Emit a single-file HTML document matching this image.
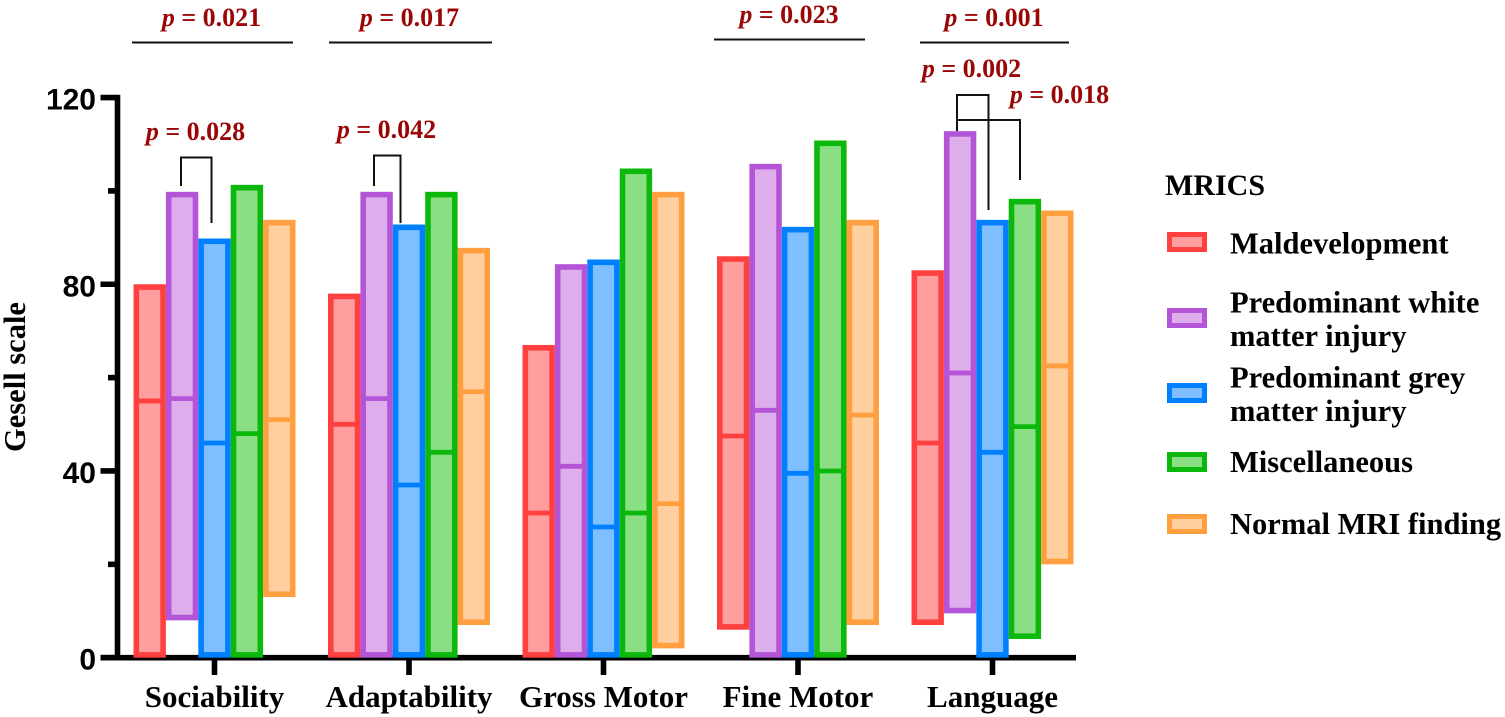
<!DOCTYPE html>
<html lang="en">
<head>
<meta charset="utf-8">
<title>Gesell scale by MRICS</title>
<style>
html,body{margin:0;padding:0;background:#fff;}
svg{display:block;}
text{font-family:"Liberation Serif",serif;font-weight:bold;fill:#000;}
.tick-y{font-family:"Liberation Sans",sans-serif;font-size:30px;text-anchor:end;}
.cat{font-size:31px;text-anchor:middle;}
.leg{font-size:30.5px;}
.p{font-size:26px;fill:#9a0606;text-anchor:middle;}
.p tspan{font-style:italic;}
.br{fill:none;stroke:#111;stroke-width:2;}
</style>
</head>
<body>
<svg id="chart" width="1505" height="717" viewBox="0 0 1505 717" xmlns="http://www.w3.org/2000/svg">
  <g id="axes"></g>
  <g id="bars"></g>

  <text x="25" y="377" transform="rotate(-90 25 377)" text-anchor="middle" font-size="30.5">Gesell scale</text>

  <g>
    <text class="p" x="211.500" y="26"><tspan>p</tspan> = 0.021</text>
    <line x1="132" x2="293" y1="42.5" y2="42.5" stroke="#111" stroke-width="2"/>
    <text class="p" x="409.500" y="26"><tspan>p</tspan> = 0.017</text>
    <line x1="329" x2="492" y1="42.5" y2="42.5" stroke="#111" stroke-width="2"/>
    <text class="p" x="789" y="23"><tspan>p</tspan> = 0.023</text>
    <line x1="714" x2="865" y1="39.5" y2="39.5" stroke="#111" stroke-width="2"/>
    <text class="p" x="994" y="26"><tspan>p</tspan> = 0.001</text>
    <line x1="920" x2="1069" y1="42.5" y2="42.5" stroke="#111" stroke-width="2"/>

    <text class="p" x="195.500" y="140"><tspan>p</tspan> = 0.028</text>
    <path class="br" d="M181 186V157.500H211.500V223"/>
    <text class="p" x="386.500" y="138"><tspan>p</tspan> = 0.042</text>
    <path class="br" d="M374 186V155.500H400.500V223"/>

    <text class="p" x="971.500" y="77"><tspan>p</tspan> = 0.002</text>
    <text class="p" x="1059.500" y="103"><tspan>p</tspan> = 0.018</text>
    <path class="br" d="M957 131V95H988.500V210"/>
    <path class="br" d="M957 120H1020V180"/>
  </g>

  <g>
    <text x="1165" y="195" font-size="30">MRICS</text>
    <g>
      <rect x="1169.500" y="234.500" width="35" height="15" fill="#fe9e9e" stroke="#ff4040" stroke-width="5"/>
      <text class="leg" x="1230" y="253.500">Maldevelopment</text>
    </g>
    <g>
      <rect x="1169.500" y="310.500" width="35" height="15" fill="#ddaeeb" stroke="#b455d8" stroke-width="5"/>
      <text class="leg" x="1230" y="312.500">Predominant white</text>
      <text class="leg" x="1230" y="346">matter injury</text>
    </g>
    <g>
      <rect x="1169.500" y="385.500" width="35" height="15" fill="#80bfff" stroke="#0080ff" stroke-width="5"/>
      <text class="leg" x="1230" y="387.500">Predominant grey</text>
      <text class="leg" x="1230" y="421">matter injury</text>
    </g>
    <g>
      <rect x="1169.500" y="454.500" width="35" height="15" fill="#8adf85" stroke="#0db80d" stroke-width="5"/>
      <text class="leg" x="1230" y="472">Miscellaneous</text>
    </g>
    <g>
      <rect x="1169.500" y="516.500" width="35" height="15" fill="#ffcf9f" stroke="#ff9f40" stroke-width="5"/>
      <text class="leg" x="1230" y="534">Normal MRI finding</text>
    </g>
  </g>
</svg>
<script>
const categories = ['Sociability', 'Adaptability', 'Gross Motor', 'Fine Motor', 'Language'];
const seriesNames = ['Maldevelopment', 'Predominant white matter injury', 'Predominant grey matter injury', 'Miscellaneous', 'Normal MRI finding'];
const yMajorTicks = [0, 40, 80, 120];
const yMinorTicks = [20, 60, 100];
const maldevelopmentHigh = [80, 78, 67, 86, 83];
const maldevelopmentMid = [55, 50, 31, 47.5, 46];
const maldevelopmentLow = [0, 0, 0, 6, 7];
const whiteMatterHigh = [99.800, 99.800, 84.300, 105.800, 112.800];
const whiteMatterMid = [55.500, 55.500, 41, 53, 61];
const whiteMatterLow = [8, 0, 0, 0, 9.500];
const greyMatterHigh = [89.800, 92.800, 85.300, 92.300, 93.800];
const greyMatterMid = [46, 37, 28, 39.500, 44];
const greyMatterLow = [0, 0, 0, 0, 0];
const miscHigh = [101.300, 99.800, 104.800, 110.800, 98.300];
const miscMid = [48, 44, 31, 40, 49.500];
const miscLow = [0, 0, 0, 0, 4];
const normalHigh = [93.800, 87.800, 99.800, 93.800, 95.800];
const normalMid = [51, 57, 33, 52, 62.500];
const normalLow = [13, 7, 2, 7, 20];

const highs = [maldevelopmentHigh, whiteMatterHigh, greyMatterHigh, miscHigh, normalHigh];
const mids = [maldevelopmentMid, whiteMatterMid, greyMatterMid, miscMid, normalMid];
const lows = [maldevelopmentLow, whiteMatterLow, greyMatterLow, miscLow, normalLow];
const strokes = ['#ff4040', '#b455d8', '#0080ff', '#0db80d', '#ff9f40'];
const fills = ['#fe9e9e', '#ddaeeb', '#80bfff', '#8adf85', '#ffcf9f'];

const NS = 'http://www.w3.org/2000/svg';
const Y0 = 657.7, PX_PER_UNIT = 4.668;
const GROUP0 = 214.5, GROUP_STEP = 194.5, BAR_W = 32.4, SW = 5.6, MID_SW = 4.8;
const yScale = v => Y0 - v * PX_PER_UNIT;
const groupX = g => GROUP0 + g * GROUP_STEP;
const barLeft = (g, s) => groupX(g) + (s - 2.5) * BAR_W;

function mk(tag, attrs, parent) {
  const el = document.createElementNS(NS, tag);
  for (const k in attrs) el.setAttribute(k, attrs[k]);
  parent.appendChild(el);
  return el;
}

const axes = document.getElementById('axes');
const barsG = document.getElementById('bars');

const yLine = mk('line', {x1: 117.5, x2: 117.5, y1: yScale(120) - 2.7, y2: Y0 + 2.7, stroke: '#000', 'stroke-width': 5.6}, axes);


const xLine = mk('line', {x1: 100.5, x2: 1076, y1: Y0, y2: Y0, stroke: '#000', 'stroke-width': 5.6}, axes);



yMajorTicks.forEach(v => {
  const t = mk('line', {x1: 100.5, x2: 117.5, y1: yScale(v), y2: yScale(v), stroke: '#000', 'stroke-width': 5.6}, axes);
  
  
  const l = mk('text', {class: 'tick-y', x: 96, y: yScale(v) + 12}, axes);
  
  
  l.textContent = v;
});
yMinorTicks.forEach(v => {
  const t = mk('line', {x1: 108, x2: 117.5, y1: yScale(v), y2: yScale(v), stroke: '#000', 'stroke-width': 5.6}, axes);
  
  
});

categories.forEach((c, g) => {
  const t = mk('line', {x1: groupX(g), x2: groupX(g), y1: Y0, y2: 675, stroke: '#000', 'stroke-width': 5.6}, axes);
  
  
  const l = mk('text', {class: 'cat', x: groupX(g), y: 707}, axes);
  
  
  l.textContent = c;

  seriesNames.forEach((name, s) => {
    const x = barLeft(g, s);
    const top = yScale(highs[s][g]);
    const bottom = yScale(lows[s][g]);
    const box = mk('rect', {
      x: x + SW / 2, y: top + SW / 2,
      width: BAR_W - SW, height: bottom - top - SW,
      fill: fills[s], stroke: strokes[s], 'stroke-width': SW
    }, barsG);
    
    
    const m = mk('line', {
      x1: x + SW / 2, x2: x + BAR_W - SW / 2,
      y1: yScale(mids[s][g]), y2: yScale(mids[s][g]),
      stroke: strokes[s], 'stroke-width': MID_SW
    }, barsG);
    
    
  });
});
</script>
</body>
</html>
